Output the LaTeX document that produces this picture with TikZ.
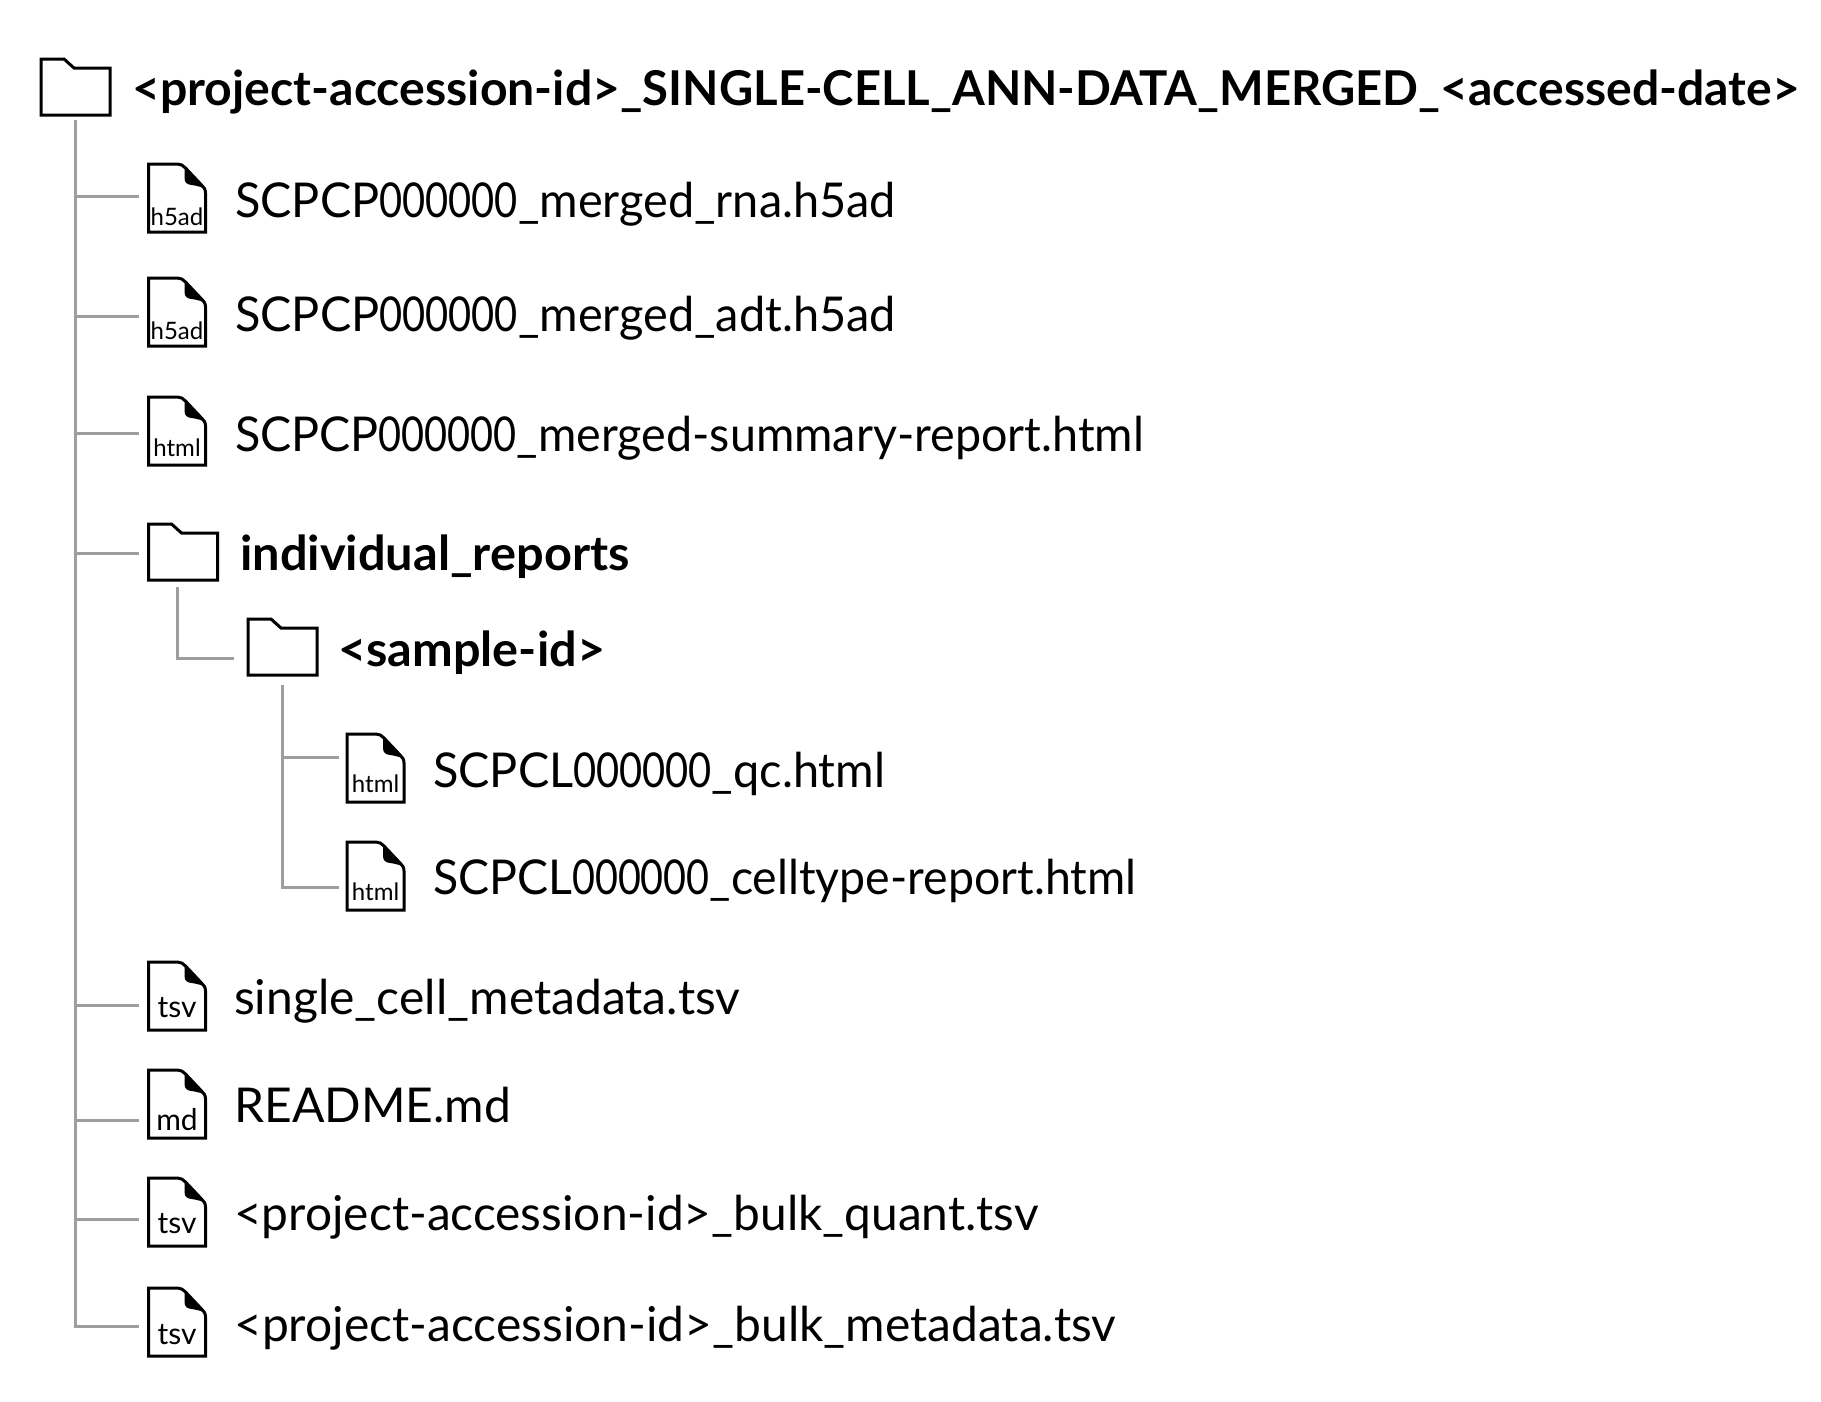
\documentclass[tikz,border=0pt]{standalone}
\usepackage{fontspec}
\usepackage{graphicx}
\setmainfont{Lato}
\usetikzlibrary{calc}
\newcommand{\sx}[2]{\scalebox{#1}[1]{#2}}
\newcommand{\dg}[1]{\scalebox{.85}[1]{#1}}
\tikzset{
  conn/.style={draw=black!38, line width=3pt},
  filebox/.style={inner sep=0pt, outer sep=0pt, anchor=north west, minimum width=57pt, minimum height=68pt},
  folderbox/.style={inner sep=0pt, outer sep=0pt, anchor=north west, minimum width=69pt, minimum height=56pt},
  icon/.style={draw=black, line width=3pt, line join=miter, fill=white},
  filelab/.style={anchor=base west, inner sep=0pt, font=\fontsize{48}{58}\selectfont},
  dirlab/.style={anchor=base west, inner sep=0pt, font=\fontsize{48}{58}\selectfont\bfseries},
  extlab/.style={anchor=base, inner sep=0pt},
}
\newcommand{\fileitem}[6]{%
  \node[filebox] (#1) at (#2,#3) {};
  \begin{scope}[shift={(#1.north west)}]
  \draw[icon] (0,0) -- (29,0) .. controls (32,0) and (35,1.5) .. (37,4)
     -- (53,21) .. controls (55.5,23.5) and (57,25) .. (57,29) -- (57,68) -- (0,68) -- cycle;
  \fill[black] (36,3) -- (55.5,24) .. controls (51,22.5) and (47,21.5) .. (43,21)
     .. controls (39,20.5) and (36,19) .. (36,14) -- cycle;
  \node[extlab, font=\fontsize{#5}{#5}\selectfont] (#1e) at (28.5,#6) {#4};
  \end{scope}
}
\newcommand{\folderitem}[3]{%
  \node[folderbox] (#1) at (#2,#3) {};
  \draw[icon] (#1.south west) -- (#1.north west) -- ++(23,0) -- ++(10,9) -- ++(36,0) -- (#1.south east) -- cycle;
}
\begin{document}
\begin{tikzpicture}[x=1pt,y=-1pt]
\useasboundingbox (0,0) rectangle (1821,1401);
\folderitem{main}{41}{59}
\node[dirlab] (maint) at (132,105) {\sx{1.004}{<project-accession-id>\_}\sx{.9837}{SINGLE-CELL\_ANN-DATA\_MERGED\_}\sx{1.002}{<accessed-date>}};

\fileitem{fa}{148.5}{164}{h5ad}{24}{61}
\node[filelab] (fat) at (235,217) {\sx{.976}{SCPCP\dg{000000}\_merged\_rna.h5ad}};
\fileitem{fb}{148.5}{278}{h5ad}{24}{61}
\node[filelab] (fbt) at (235,331) {\sx{.976}{SCPCP\dg{000000}\_merged\_adt.h5ad}};
\fileitem{fc}{148.5}{397}{html}{24}{59}
\node[filelab] (fct) at (235,451) {\sx{.972}{SCPCP\dg{000000}\_merged-summary-report.html}};
\folderitem{dir}{148.5}{524}
\node[dirlab] (dirt) at (240,570) {\sx{1.015}{individual\_reports}};
\folderitem{samp}{248}{619}
\node[dirlab] (sampt) at (338,666) {\sx{1.013}{<sample-id>}};
\fileitem{fd}{347}{734}{html}{24}{58}
\node[filelab] (fdt) at (433,787) {\sx{.976}{SCPCL\dg{000000}\_qc.html}};
\fileitem{fe}{347}{842}{html}{24}{58}
\node[filelab] (fet) at (433,894) {\sx{.968}{SCPCL\dg{000000}\_celltype-report.html}};
\fileitem{ff}{148.5}{962}{tsv}{30}{55}
\node[filelab] (fft) at (234,1014) {single\_cell\_metadata.tsv};
\fileitem{fg}{148.5}{1070}{md}{30}{60}
\node[filelab] (fgt) at (234,1122) {README.md};
\fileitem{fh}{148.5}{1178}{tsv}{30}{55}
\node[filelab] (fht) at (234,1230) {\sx{.997}{<project-accession-id>\_bulk\_quant.tsv}};
\fileitem{fi}{148.5}{1288}{tsv}{30}{56}
\node[filelab] (fit) at (234,1341) {\sx{.999}{<project-accession-id>\_bulk\_metadata.tsv}};

\coordinate (ja) at (75.5,196);
\coordinate (jb) at (75.5,316);
\coordinate (jc) at (75.5,433);
\coordinate (jd) at (75.5,553);
\coordinate (jf) at (75.5,1005);
\coordinate (jg) at (75.5,1120);
\coordinate (jh) at (75.5,1219);
\coordinate (ji) at (75.5,1326);
\draw[conn, shorten <=5pt, shorten >=10pt] (main.south) -- (main.south |- ji) -- (fi.west |- ji);
\foreach \n/\t in {ja/fa,jb/fb,jc/fc,jd/dir,jf/ff,jg/fg,jh/fh}
  \draw[conn, shorten >=10pt] (\n) -- (\t.west |- \n);
\coordinate (da) at (177,658);
\draw[conn, shorten <=7pt, shorten >=14pt] (da |- dir.south) -- (da) -- (samp.west |- da);
\coordinate (sa) at (282,757);
\coordinate (sb) at (282,887);
\draw[conn, shorten <=10pt, shorten >=8pt] (sa |- samp.south) -- (sb) -- (fe.west |- sb);
\draw[conn, shorten >=8pt] (sa) -- (fd.west |- sa);
\end{tikzpicture}
\end{document}
